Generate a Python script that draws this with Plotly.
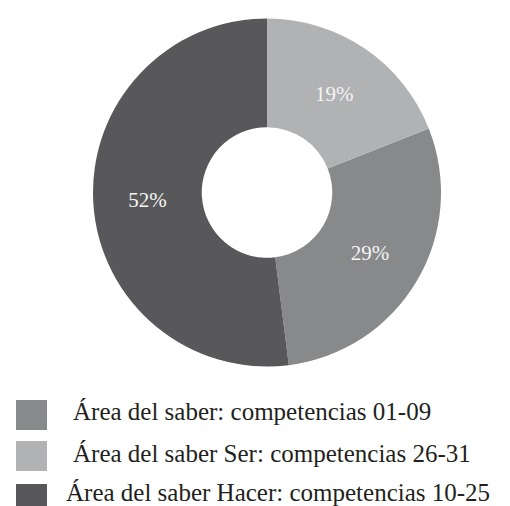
import plotly.graph_objects as go

# Data (legend order)
labels = [
    "Área del saber: competencias 01-09",
    "Área del saber Ser: competencias 26-31",
    "Área del saber Hacer: competencias 10-25",
]
values = [29, 19, 52]
colors = ["#88898b", "#b1b2b4", "#58585a"]

W, H = 510, 506
SERIF = "Liberation Serif, Times New Roman, serif"

fig = go.Figure()
fig.add_trace(go.Pie(
    labels=labels,
    values=values,
    hole=0.375,
    sort=False,
    direction="counterclockwise",
    rotation=68.4,
    marker=dict(colors=colors, line=dict(width=0)),
    textinfo="percent",
    textposition="inside",
    insidetextorientation="horizontal",
    textfont=dict(family=SERIF, size=21, color="#f4f4f4"),
    domain=dict(x=[85 / W, 433 / W], y=[1 - 359 / H, 1 - 10 / H]),
    showlegend=False,
    hoverinfo="label+percent",
))

# Custom legend (squares + text)
sq_top = [392, 433, 476]
sq_h = 30
text_x = [63, 63, 56]
text_mid = [403, 445, 484]
shapes = []
annotations = []
for i, (lab, col) in enumerate(zip(labels, colors)):
    y0 = sq_top[i]
    shapes.append(dict(
        type="rect", xref="paper", yref="paper",
        x0=8 / W, x1=39 / W, y0=1 - (y0 + sq_h) / H, y1=1 - y0 / H,
        fillcolor=col, line=dict(width=0),
    ))
    annotations.append(dict(
        xref="paper", yref="paper",
        x=text_x[i] / W, y=1 - text_mid[i] / H,
        xanchor="left", yanchor="middle",
        text=lab, showarrow=False,
        font=dict(family=SERIF, size=25, color="#231f20"),
    ))

fig.update_layout(
    width=W, height=H,
    margin=dict(l=0, r=0, t=0, b=0),
    paper_bgcolor="white",
    plot_bgcolor="white",
    shapes=shapes,
    annotations=annotations,
)

fig.write_html("out.html")
